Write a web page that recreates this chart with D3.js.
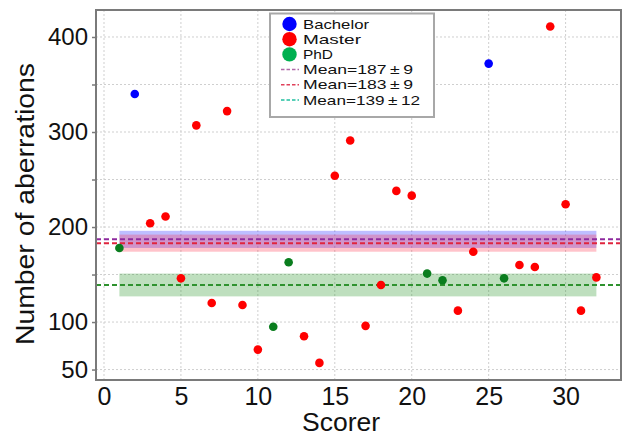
<!DOCTYPE html>
<html><head><meta charset="utf-8">
<script src="https://cdn.jsdelivr.net/npm/d3@7/dist/d3.min.js"></script>
<style>
body{margin:0;background:#fff;}
svg text{font-family:"Liberation Sans",Arial,sans-serif;fill:#111;}
</style>
</head><body>
<svg id="chart" width="624" height="437"></svg>
<script>
// ---- data ----
const scorers = [1,2,3,4,5,6,7,8,9,10,11,12,13,14,15,16,17,18,19,20,21,22,23,24,25,26,27,28,29,30,31,32];
const degrees = ["PhD","Bachelor","Master","Master","Master","Master","Master","Master","Master","Master",
                 "PhD","PhD","Master","Master","Master","Master","Master","Master","Master","Master",
                 "PhD","PhD","Master","Master","Bachelor","PhD","Master","Master","Master","Master","Master","Master"];
const aberrations = [178,340,204,211,146,307,120,322,118,71,95,163,85,57,254,291,96,139,238,233,151,144,112,174,372,146,160,158,411,224,112,147];
const groups = ["Bachelor","Master","PhD"];
const groupMeans = [187,183,139];
const groupSD = [9,9,12];
const xTicks = [0,5,10,15,20,25,30];
const yTicks = [50,100,150,200,250,300,350,400];
const yLabeled = [50,100,200,300,400];

// ---- styles ----
const pointColor = {Bachelor:"#0000ff", Master:"#ff0000", PhD:"#0a7d1e"};
const legendDot = {Bachelor:"#0000ff", Master:"#ff0000", PhD:"#00b050"};
const bandFill = {Bachelor:"rgba(40,40,255,0.30)", Master:"rgba(255,40,70,0.28)", PhD:"rgba(20,140,20,0.28)"};
const lineColor = {Bachelor:"#8e2a9e", Master:"#e0243e", PhD:"#2f922f"};
const legendLine = {Bachelor:"#b06aa8", Master:"#e0405a", PhD:"#20c0a0"};

const svg = d3.select("#chart");
const L=96, R=621, T=10, B=380;
const x = d3.scaleLinear().domain([-0.52, 33.6]).range([L, R]);
const y = d3.scaleLinear().domain([39, 428.4]).range([B, T]);

// grid
const grid = svg.append("g");
grid.selectAll("line.v").data(xTicks).join("line")
  .attr("x1", d=>x(d)).attr("x2", d=>x(d)).attr("y1", T).attr("y2", B)
  .attr("stroke","#cfcfcf").attr("stroke-dasharray","2,2").attr("stroke-width",1);
grid.selectAll("line.h").data(yTicks).join("line")
  .attr("y1", d=>y(d)).attr("y2", d=>y(d)).attr("x1", L).attr("x2", R)
  .attr("stroke","#cfcfcf").attr("stroke-dasharray","2,2").attr("stroke-width",1);

// bands
const bands = svg.append("g");
groups.forEach((g,i)=>{
  bands.append("rect")
    .attr("x", x(scorers[0])).attr("width", x(scorers[scorers.length-1]) - x(scorers[0]))
    .attr("y", y(groupMeans[i]+groupSD[i])).attr("height", y(groupMeans[i]-groupSD[i]) - y(groupMeans[i]+groupSD[i]))
    .attr("fill", bandFill[g]);
});
// mean lines
groups.forEach((g,i)=>{
  svg.append("line")
    .attr("x1", L).attr("x2", R).attr("y1", y(groupMeans[i])).attr("y2", y(groupMeans[i]))
    .attr("stroke", lineColor[g]).attr("stroke-width", 2).attr("stroke-dasharray","5,3");
});

// points
svg.append("g").selectAll("circle").data(scorers).join("circle")
  .attr("cx", (d)=>x(d)).attr("cy", (d,i)=>y(aberrations[i])).attr("r", 4.3)
  .attr("fill", (d,i)=>pointColor[degrees[i]]);

// frame
svg.append("rect").attr("x",L).attr("y",T).attr("width",R-L).attr("height",B-T)
  .attr("fill","none").attr("stroke","#7a7a7a").attr("stroke-width",2);

// axes
const yAxis = svg.append("g").attr("transform",`translate(${L},0)`)
  .call(d3.axisLeft(y).tickValues(yTicks).tickSize(4).tickPadding(4)
    .tickFormat(d=> yLabeled.includes(d) ? d : ""));
yAxis.select(".domain").remove();
yAxis.selectAll(".tick line").attr("stroke","#7a7a7a").attr("stroke-width",1.5);
yAxis.selectAll("text").style("font-size","24px").attr("fill","#111");

const xAxis = svg.append("g").attr("transform",`translate(0,${B})`)
  .call(d3.axisBottom(x).tickValues(xTicks).tickSize(0).tickPadding(7));
xAxis.select(".domain").remove();
xAxis.selectAll("text").style("font-size","25px").attr("fill","#111");

svg.append("text").attr("x",341).attr("y",431).attr("text-anchor","middle")
  .style("font-size","25px").attr("textLength",78).attr("lengthAdjust","spacingAndGlyphs").text("Scorer");
svg.append("text").attr("transform","translate(34,204) rotate(-90)").attr("text-anchor","middle")
  .style("font-size","25px").attr("textLength",282).attr("lengthAdjust","spacingAndGlyphs")
  .text("Number of aberrations");

// legend
const lg = svg.append("g");
lg.append("rect").attr("x",270).attr("y",13.5).attr("width",164).attr("height",103.5)
  .attr("fill","#fff").attr("stroke","#a8a8a8").attr("stroke-width",2);
const rowY = i => 24 + i*15.2;
const legendWidths = [66, 58, 30];
groups.forEach((g,i)=>{
  lg.append("circle").attr("cx",289.5).attr("cy",rowY(i)).attr("r",7.2).attr("fill",legendDot[g]);
  lg.append("text").attr("x",303).attr("y",rowY(i)).attr("dy","0.36em").style("font-size","13px")
    .attr("textLength",legendWidths[i]).attr("lengthAdjust","spacingAndGlyphs").text(g);
});
const meanWidths = [110, 110, 117];
groups.forEach((g,i)=>{
  const yy = rowY(i+3);
  lg.append("line").attr("x1",281).attr("x2",299).attr("y1",yy).attr("y2",yy)
    .attr("stroke",legendLine[g]).attr("stroke-width",1.5).attr("stroke-dasharray","3.5,2");
  lg.append("text").attr("x",303).attr("y",yy).attr("dy","0.36em").style("font-size","13px")
    .attr("textLength",meanWidths[i]).attr("lengthAdjust","spacingAndGlyphs")
    .text(`Mean=${groupMeans[i]}\u2009\u00B1\u2009${groupSD[i]}`);
});
</script>
</body></html>
